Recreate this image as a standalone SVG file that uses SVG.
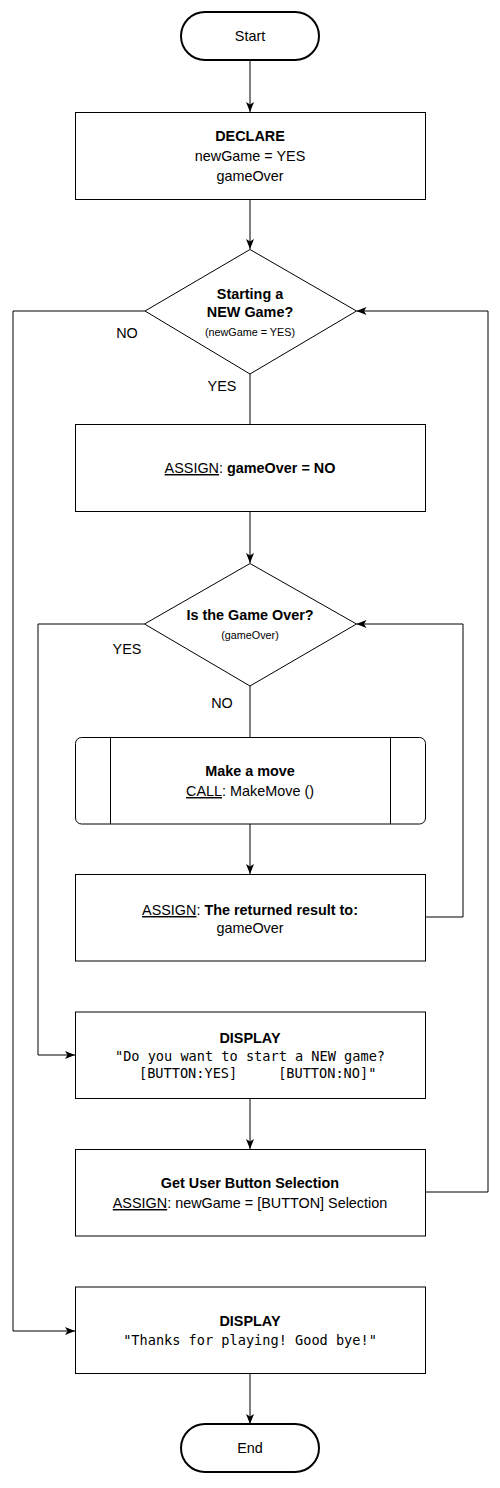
<svg xmlns="http://www.w3.org/2000/svg" width="500" height="1488" viewBox="0 0 500 1488">
<style>
  .node { fill: #ffffff; stroke: #000000; stroke-width: 1; }
  .term { fill: #ffffff; stroke: #000000; stroke-width: 2; }
  .conn { fill: none; stroke: #000000; stroke-width: 1; }
  text { font-family: "Liberation Sans", Arial, sans-serif; font-size: 14.4px; fill: #000000; }
  .c { text-anchor: middle; }
  .b { font-weight: bold; }
  .s { font-size: 10.8px; }
  .u { text-decoration: underline; }
  .m { font-family: "DejaVu Sans Mono", "Liberation Mono", monospace; font-size: 13.6px; }
</style>
<defs>
  <marker id="arr" viewBox="0 0 10 8" refX="10" refY="4" markerWidth="10" markerHeight="8" markerUnits="userSpaceOnUse" orient="auto">
    <path d="M0,0 L10,4 L0,8 L2.5,4 z" fill="#000000"/>
  </marker>
</defs>
<rect width="500" height="1488" fill="#ffffff"/>

<g id="connectors">
  <path class="conn" d="M250,60 V112" marker-end="url(#arr)"/>
  <path class="conn" d="M250,200 V249" marker-end="url(#arr)"/>
  <path class="conn" d="M250,374 V424"/>
  <path class="conn" d="M250,512 V563" marker-end="url(#arr)"/>
  <path class="conn" d="M250,686 V737"/>
  <path class="conn" d="M250,824 V874" marker-end="url(#arr)"/>
  <path class="conn" d="M425,917 H463 V624 H356.5" marker-end="url(#arr)"/>
  <path class="conn" d="M144.5,624 H38 V1055 H75" marker-end="url(#arr)"/>
  <path class="conn" d="M250,1099 V1149" marker-end="url(#arr)"/>
  <path class="conn" d="M425,1192 H488 V311 H356.5" marker-end="url(#arr)"/>
  <path class="conn" d="M145,311 H13 V1331 H75" marker-end="url(#arr)"/>
  <path class="conn" d="M250,1374 V1424" marker-end="url(#arr)"/>
  <text class="c" x="127" y="338">NO</text>
  <text class="c" x="222" y="391">YES</text>
  <text class="c" x="127" y="654">YES</text>
  <text class="c" x="222" y="708">NO</text>
</g>

<g id="start">
  <rect class="term" x="181" y="12" width="138" height="48" rx="24" ry="24"/>
  <text class="c" x="250" y="41">Start</text>
</g>

<g id="declare">
  <rect class="node" x="75.5" y="112.5" width="350" height="87"/>
  <text class="c b" x="250" y="141">DECLARE</text>
  <text class="c" x="250" y="161">newGame = YES</text>
  <text class="c" x="250" y="181">gameOver</text>
</g>

<g id="decision-new-game">
  <polygon class="node" points="250,249.5 356.5,311 250,374 145,311"/>
  <text class="c b" x="250" y="299">Starting a</text>
  <text class="c b" x="250" y="316.5">NEW Game?</text>
  <text class="c s" x="250" y="335.5">(newGame = YES)</text>
</g>

<g id="assign-gameover">
  <rect class="node" x="75.5" y="424.5" width="350" height="87"/>
  <text class="c" x="250" y="473"><tspan class="u">ASSIGN</tspan>: <tspan class="b">gameOver = NO</tspan></text>
</g>

<g id="decision-game-over">
  <polygon class="node" points="250,563.5 356.5,624 250,686 144.5,624"/>
  <text class="c b" x="250" y="620">Is the Game Over?</text>
  <text class="c s" x="250" y="639">(gameOver)</text>
</g>

<g id="make-move">
  <rect class="node" x="75.5" y="737.5" width="350" height="86.5" rx="6" ry="6"/>
  <line class="node" x1="110.5" y1="737.5" x2="110.5" y2="824"/>
  <line class="node" x1="390.5" y1="737.5" x2="390.5" y2="824"/>
  <text class="c b" x="250" y="776">Make a move</text>
  <text class="c" x="250" y="796"><tspan class="u">CALL</tspan>: MakeMove ()</text>
</g>

<g id="assign-result">
  <rect class="node" x="75.5" y="874.5" width="350" height="86.5"/>
  <text class="c" x="250" y="915"><tspan class="u">ASSIGN</tspan>: <tspan class="b">The returned result to:</tspan></text>
  <text class="c" x="250" y="933">gameOver</text>
</g>

<g id="display-new-game">
  <rect class="node" x="75.5" y="1012" width="350" height="86.5"/>
  <text class="c b" x="250" y="1043">DISPLAY</text>
  <text class="c m" x="250" y="1061">"Do you want to start a NEW game?</text>
  <text class="m" x="139" y="1078" xml:space="preserve">[BUTTON:YES]     [BUTTON:NO]"</text>
</g>

<g id="get-selection">
  <rect class="node" x="75.5" y="1149.5" width="350" height="86.5"/>
  <text class="c b" x="250" y="1188">Get User Button Selection</text>
  <text class="c" x="250" y="1208"><tspan class="u">ASSIGN</tspan>: newGame = [BUTTON] Selection</text>
</g>

<g id="display-goodbye">
  <rect class="node" x="75.5" y="1287" width="350" height="86.5"/>
  <text class="c b" x="250" y="1326">DISPLAY</text>
  <text class="c m" x="250" y="1345">"Thanks for playing! Good bye!"</text>
</g>

<g id="end">
  <rect class="term" x="181" y="1424" width="138" height="48" rx="24" ry="24"/>
  <text class="c" x="250" y="1453">End</text>
</g>
</svg>
